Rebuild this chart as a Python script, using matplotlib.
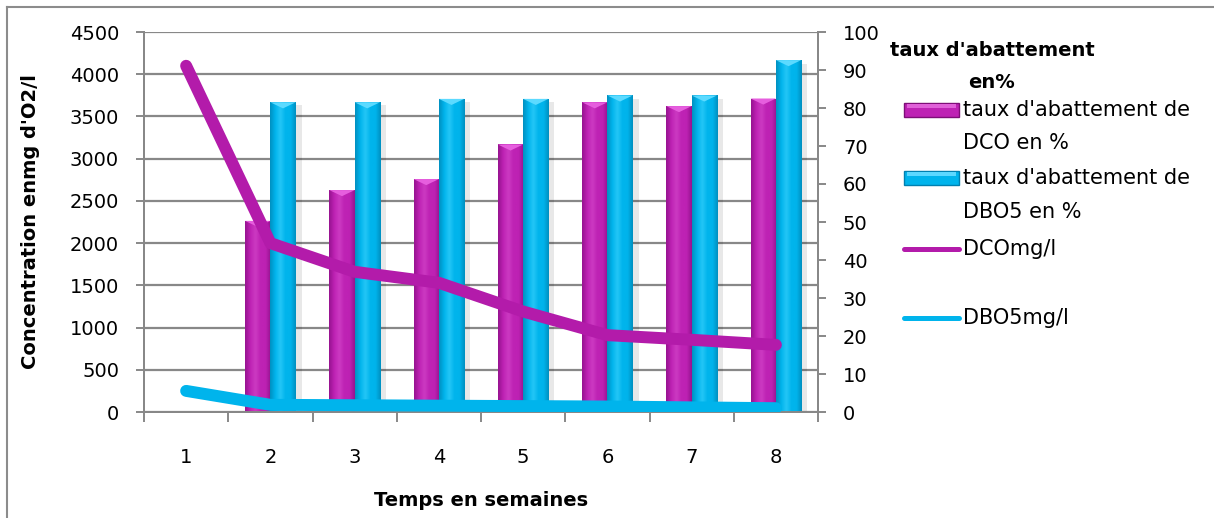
import numpy as np
import matplotlib
matplotlib.use("Agg")
import matplotlib.pyplot as plt
from matplotlib.patches import Rectangle, Polygon
from matplotlib.lines import Line2D
from matplotlib.colors import LinearSegmentedColormap

plt.rcParams['font.family'] = ['DejaVu Sans']

weeks = [1, 2, 3, 4, 5, 6, 7, 8]
abat_dco = [0, 50.3, 58.4, 61.3, 70.4, 81.5, 80.5, 82.5]
abat_dbo5 = [0, 81.5, 81.5, 82.4, 82.4, 83.3, 83.3, 92.6]
dco_mgl = [4100, 2000, 1660, 1530, 1190, 910, 855, 795]
dbo5_mgl = [250, 85, 80, 75, 70, 65, 55, 45]

label_dco_bar = ["taux d'abattement de", "DCO en %"]
label_dbo_bar = ["taux d'abattement de", "DBO5 en %"]
label_dco_line = "DCOmg/l"
label_dbo_line = "DBO5mg/l"
right_title = ["taux d'abattement", "en%"]

MAG = "#B31BAA"
MAG_BAR = "#BE22B4"
CYAN = "#00B4EC"
GRID = "#888888"

W, H = 1214, 518
fig = plt.figure(figsize=(W / 100, H / 100), dpi=100)

def fx(px):
    return px / W

def fy(py):
    return 1 - py / H

# outer border (top and left)
fig.add_artist(Line2D([fx(7), 1.0], [fy(7), fy(7)], color="#8c8c8c", lw=1.5))
fig.add_artist(Line2D([fx(7), fx(7)], [0, fy(7)], color="#8c8c8c", lw=1.5))

left, right, top, bottom = 144, 818, 32, 412
pos = [fx(left), fy(bottom), (right - left) / W, (bottom - top) / H]

ax = fig.add_axes(pos)
ax2 = ax.twinx()
ax3 = fig.add_axes(pos, sharex=ax, sharey=ax)

ax.set_zorder(0)
ax2.set_zorder(1)
ax3.set_zorder(2)
ax2.patch.set_visible(False)
ax3.patch.set_visible(False)
ax3.axis("off")

x = np.arange(len(weeks))
ax.set_xlim(-0.5, len(weeks) - 0.5)
ax.set_ylim(0, 4500)
ax2.set_ylim(0, 100)

ax.set_yticks(np.arange(0, 4501, 500))
ax2.set_yticks(np.arange(0, 101, 10))
ax.set_xticks(x)
ax.set_xticklabels([str(w) for w in weeks])
ax.set_xticks(np.arange(-0.5, len(weeks), 1.0), minor=True)
ax.tick_params(axis="x", which="major", length=0, pad=26, labelsize=14)
ax.tick_params(axis="x", which="minor", length=7, color=GRID, width=1.4)
ax.tick_params(axis="y", length=6, color=GRID, width=1.4, labelsize=14, pad=12)
ax2.tick_params(axis="y", length=6, color=GRID, width=1.4, labelsize=14, pad=12)
ax.grid(axis="y", color=GRID, lw=1.6)
ax.set_axisbelow(True)

for a in (ax, ax2):
    a.spines["top"].set_visible(False)
    for s in ("left", "right", "bottom"):
        a.spines[s].set_color(GRID)
        a.spines[s].set_linewidth(1.4)

pw, ph = right - left, bottom - top
ax.set_ylabel("Concentration enmg d'O2/l", fontsize=14, fontweight="bold", va="center")
ax.yaxis.set_label_coords((30 - left) / pw, 0.5)
ax.set_xlabel("Temps en semaines", fontsize=14, fontweight="bold", va="center")
ax.xaxis.set_label_coords(0.5, (bottom - 500) / ph)

# gradient bars
bw = 0.30
def grad_cmap(base, light, dark):
    return LinearSegmentedColormap.from_list("g", [dark, base, light, base, base, dark])

cm_mag = grad_cmap(MAG_BAR, "#CC3AC2", "#961390")
cm_cyan = grad_cmap(CYAN, "#24C6F6", "#0090C0")
grad = np.linspace(0, 1, 64).reshape(1, -1)

def draw_bars(vals, offset, cmap, topcol):
    bars = ax2.bar(x + offset, vals, width=bw, color="none", edgecolor="none", zorder=2)
    for b, v in zip(bars, vals):
        if v <= 0:
            continue
        x0, w, h = b.get_x(), b.get_width(), b.get_height()
        ax2.add_patch(Rectangle((x0 + w, 0), 0.07, h * 0.99, color="#000000", alpha=0.09, lw=0, zorder=1))
        im = ax2.imshow(grad, cmap=cmap, extent=(x0, x0 + w, 0, h), aspect="auto", zorder=2,
                        interpolation="bicubic")
        im.set_clip_path(b)
        cap = 1.6
        ax2.add_patch(Polygon([(x0, h), (x0 + w, h), (x0 + w * 0.5, h - cap)],
                              closed=True, color=topcol, lw=0, zorder=3))

draw_bars(abat_dco, -bw / 2, cm_mag, "#E65EDE")
draw_bars(abat_dbo5, bw / 2, cm_cyan, "#5CDAFF")
ax2.set_xlim(-0.5, len(weeks) - 0.5)

# lines
ax3.plot(x, dco_mgl, color=MAG, lw=8.6, solid_capstyle="round", solid_joinstyle="round")
ax3.plot(x, dbo5_mgl, color=CYAN, lw=8.6, solid_capstyle="round", solid_joinstyle="round")

# right axis title
fig.text(fx(890), fy(50), right_title[0], fontsize=14, fontweight="bold", va="center", ha="left")
fig.text(fx(968), fy(83), right_title[1], fontsize=14, fontweight="bold", va="center", ha="left")

# legend (manual layout)
hx0, hx1, tx = 904, 959, 963
LFS = 15
def leg_rect(yc, face, edge, light):
    fig.add_artist(Rectangle((fx(hx0), fy(yc + 7)), fx(hx1) - fx(hx0), fy(yc - 7) - fy(yc + 7),
                             facecolor=face, edgecolor=edge, lw=1.0))
    fig.add_artist(Rectangle((fx(hx0 + 3), fy(yc - 2)), fx(hx1 - 3) - fx(hx0 + 3), fy(yc - 6) - fy(yc - 2),
                             facecolor=light, edgecolor="none", lw=0))

def leg_line(yc, col):
    fig.add_artist(Line2D([fx(hx0), fx(hx1)], [fy(yc), fy(yc)], color=col, lw=3.6, solid_capstyle="round"))

leg_rect(110, MAG_BAR, "#7E0E78", "#E060D8")
fig.text(fx(tx), fy(110), label_dco_bar[0], fontsize=LFS, va="center", ha="left")
fig.text(fx(tx), fy(143), label_dco_bar[1], fontsize=LFS, va="center", ha="left")
leg_rect(178, CYAN, "#0080B0", "#5CD8FF")
fig.text(fx(tx), fy(178), label_dbo_bar[0], fontsize=LFS, va="center", ha="left")
fig.text(fx(tx), fy(212), label_dbo_bar[1], fontsize=LFS, va="center", ha="left")
leg_line(249, MAG)
fig.text(fx(tx), fy(249), label_dco_line, fontsize=LFS, va="center", ha="left")
leg_line(318, CYAN)
fig.text(fx(tx), fy(318), label_dbo_line, fontsize=LFS, va="center", ha="left")

fig.savefig("out.png", dpi=100)
